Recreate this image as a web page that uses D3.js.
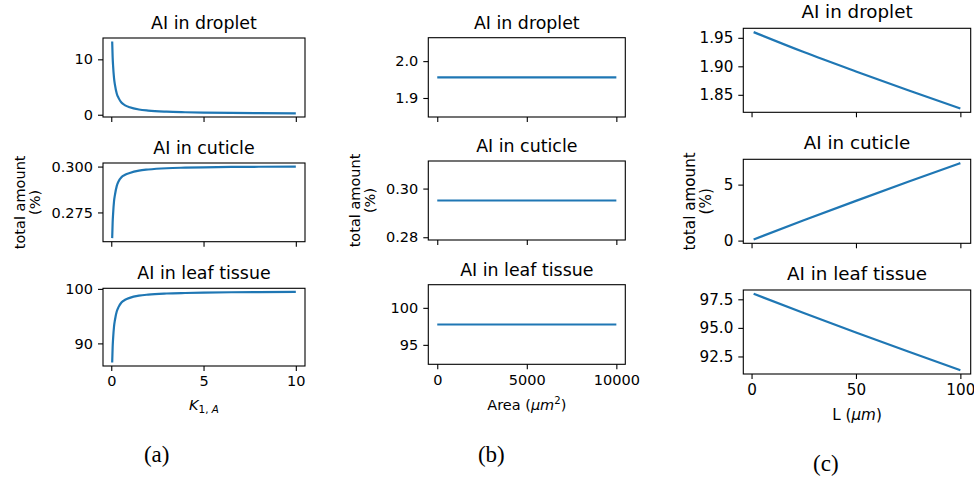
<!DOCTYPE html>
<html>
<head>
<meta charset="utf-8">
<script src="https://cdn.jsdelivr.net/npm/d3@7"></script>
<style>
  body { margin: 0; background: #fff; }
  svg { display: block; font-family: "DejaVu Sans", sans-serif; }
  .frame { fill: none; stroke: #000; stroke-width: 1.1; }
  .tick line { stroke: #000; stroke-width: 1.1; }
  .tick text { fill: #000; }
</style>
</head>
<body>
<div id="chart"></div>
<script>
// panel (a): K_{1,A}
const kValues   = [0.05, 0.075, 0.1, 0.15, 0.2, 0.3, 0.4, 0.55, 0.75, 1.0, 1.5, 2.0, 3.0, 4.0, 5.0, 6.5, 8.0, 10];
const dropletA  = [13.2, 10.4, 8.8, 6.6, 5.4, 3.8, 3.0, 2.2, 1.7, 1.35, 0.95, 0.75, 0.55, 0.45, 0.38, 0.32, 0.28, 0.24];
const cuticleA  = [0.261, 0.2695, 0.2743, 0.2811, 0.2846, 0.2895, 0.292, 0.2942, 0.2955, 0.2965, 0.2978, 0.2984, 0.2991, 0.2994, 0.2996, 0.2998, 0.2999, 0.3000];
const leafA     = [86.5, 89.3, 90.9, 93.1, 94.3, 95.9, 96.7, 97.5, 98.0, 98.35, 98.75, 98.95, 99.15, 99.25, 99.32, 99.38, 99.42, 99.46];

// panel (b): Area
const areaValues = [0, 10000];
const dropletB   = [1.956, 1.956];
const cuticleB   = [0.2951, 0.2951];
const leafB      = [97.75, 97.75];

// panel (c): L
const lValues   = [1, 25, 50, 75, 100];
const dropletC  = [1.960, 1.925, 1.891, 1.858, 1.826];
const cuticleC  = [0.10, 1.82, 3.55, 5.25, 6.92];
const leafC     = [97.98, 96.30, 94.60, 92.93, 91.30];

const rowTitles = ["AI in droplet", "AI in cuticle", "AI in leaf tissue"];
const captions  = ["(a)", "(b)", "(c)"];

const xTicksA = [0, 5, 10];
const xTicksB = [0, 5000, 10000];
const xTicksC = [0, 50, 100];
const yTicksA = [[0, 10], [0.275, 0.300], [90, 100]];
const yTicksB = [[1.9, 2.0], [0.28, 0.30], [95, 100]];
const yTicksC = [[1.85, 1.90, 1.95], [0, 5], [92.5, 95.0, 97.5]];
const yFmtA = ["d", ".3f", "d"];
const yFmtB = [".1f", ".2f", "d"];
const yFmtC = [".2f", "d", ".1f"];

const W = 974, H = 483;
const BLUE = "#1f77b4";

// matplotlib-like autoscale: 5% margins, constant data expanded by 5% of value
function padDomain(vals) {
  let [lo, hi] = d3.extent(vals);
  if (hi - lo < 1e-12) { const e = Math.abs(lo) * 0.05; lo -= e; hi += e; }
  const m = (hi - lo) * 0.05;
  return [lo - m, hi + m];
}

const panels = [
  { xs: kValues, series: [dropletA, cuticleA, leafA], xTicks: xTicksA, yTicks: yTicksA, yFmt: yFmtA,
    x0: 103, x1: 305, rows: [[38, 117], [163, 241.7], [288.3, 366]],
    fs: 14.5, tfs: 17.4, titlePad: 9, ylabX: [25, 39.8], xlabY: 410, cap: [156.7, 461.7], xlab: "K" },
  { xs: areaValues, series: [dropletB, cuticleB, leafB], xTicks: xTicksB, yTicks: yTicksB, yFmt: yFmtB,
    x0: 428.3, x1: 625.3, rows: [[37.7, 117], [161, 240], [284.7, 364.3]],
    fs: 14.5, tfs: 17.4, titlePad: 9, ylabX: [360, 374.7], xlabY: 410, cap: [491.3, 461.7], xlab: "Area" },
  { xs: lValues, series: [dropletC, cuticleC, leafC], xTicks: xTicksC, yTicks: yTicksC, yFmt: yFmtC,
    x0: 743.3, x1: 970.7, rows: [[28.3, 112.3], [159.3, 243.3], [290, 374]],
    fs: 15.2, tfs: 18.3, titlePad: 10, ylabX: [695, 711.3], xlabY: 420, cap: [825.8, 471], xlab: "L" }
];

const svg = d3.select("#chart").append("svg")
  .attr("width", W).attr("height", H);

panels.forEach((p, pi) => {
  const g = svg.append("g").attr("class", "panel" + pi);
  const xScale = d3.scaleLinear().domain(padDomain(p.xs)).range([p.x0, p.x1]);

  p.series.forEach((ys, ri) => {
    const [top, bottom] = p.rows[ri];
    const yScale = d3.scaleLinear().domain(padDomain(ys)).range([bottom, top]);
    const ax = g.append("g");

    // x axis (labels only on the bottom row)
    const xAxis = d3.axisBottom(xScale).tickValues(p.xTicks)
      .tickFormat(ri < 2 ? "" : d3.format("d"))
      .tickSize(5).tickPadding(5).tickSizeOuter(0);
    ax.append("g").attr("transform", "translate(0," + bottom + ")")
      .call(xAxis)
      .call(s => s.select(".domain").remove())
      .selectAll("text").attr("font-size", p.fs).attr("font-family", "DejaVu Sans");

    // y axis
    const yAxis = d3.axisLeft(yScale).tickValues(p.yTicks[ri])
      .tickFormat(d3.format(p.yFmt[ri])).tickSize(5).tickPadding(5).tickSizeOuter(0);
    ax.append("g").attr("transform", "translate(" + p.x0 + ",0)")
      .call(yAxis)
      .call(s => s.select(".domain").remove())
      .selectAll("text").attr("font-size", p.fs).attr("font-family", "DejaVu Sans");

    // line
    const line = d3.line()
      .x((d, i) => xScale(p.xs[i]))
      .y(d => yScale(d))
      .curve(d3.curveMonotoneX);
    ax.append("path").datum(ys)
      .attr("d", line)
      .attr("fill", "none")
      .attr("stroke", BLUE)
      .attr("stroke-width", 2.2)
      .attr("stroke-linejoin", "round");

    // frame
    ax.append("rect").attr("class", "frame")
      .attr("x", p.x0).attr("y", top)
      .attr("width", p.x1 - p.x0).attr("height", bottom - top);

    // title
    ax.append("text")
      .attr("x", (p.x0 + p.x1) / 2).attr("y", top - p.titlePad)
      .attr("text-anchor", "middle").attr("font-size", p.tfs)
      .text(rowTitles[ri]);
  });

  // y label, two lines, centred on the middle row
  const midY = (p.rows[1][0] + p.rows[1][1]) / 2;
  ["total amount", "(%)"].forEach((t, li) => {
    g.append("text")
      .attr("transform", "translate(" + p.ylabX[li] + "," + midY + ") rotate(-90)")
      .attr("text-anchor", "middle").attr("font-size", p.fs)
      .text(t);
  });

  // x label
  const xl = g.append("text")
    .attr("x", (p.x0 + p.x1) / 2).attr("y", p.xlabY)
    .attr("text-anchor", "middle").attr("font-size", p.fs);
  if (p.xlab === "K") {
    xl.append("tspan").attr("font-style", "italic").text("K");
    xl.append("tspan").attr("font-size", p.fs * 0.72).attr("dy", 3).text("1, ");
    xl.append("tspan").attr("font-size", p.fs * 0.72).attr("font-style", "italic").text("A");
  } else if (p.xlab === "Area") {
    xl.append("tspan").text("Area (");
    xl.append("tspan").attr("font-style", "italic").text("μm");
    xl.append("tspan").attr("font-size", p.fs * 0.7).attr("dy", -6).text("2");
    xl.append("tspan").attr("dy", 6).text(")");
  } else {
    xl.append("tspan").text("L (");
    xl.append("tspan").attr("font-style", "italic").text("μm");
    xl.append("tspan").text(")");
  }

  // caption
  g.append("text")
    .attr("x", p.cap[0]).attr("y", p.cap[1])
    .attr("text-anchor", "middle")
    .attr("font-family", "'Liberation Serif', 'DejaVu Serif', serif")
    .attr("font-size", 23)
    .text(captions[pi]);
});
</script>
</body>
</html>
